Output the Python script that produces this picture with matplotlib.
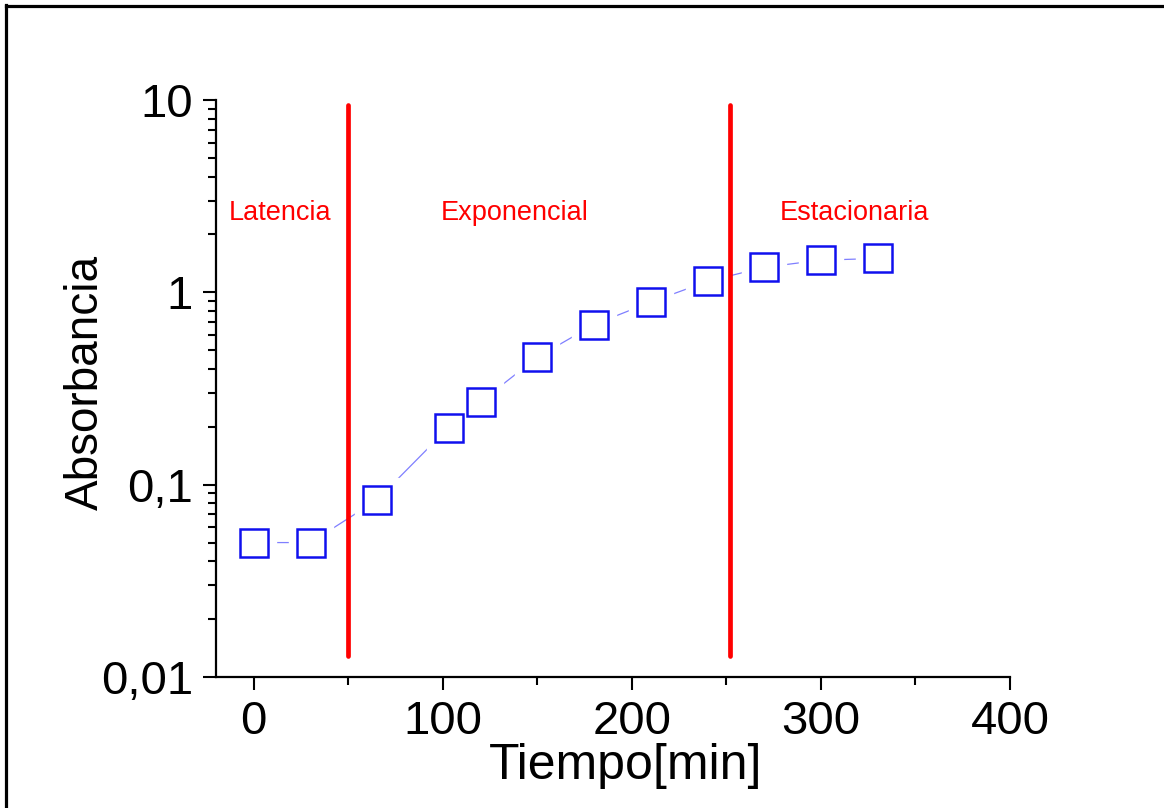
import numpy as np
import matplotlib.pyplot as plt
from matplotlib.ticker import FixedLocator, FuncFormatter, LogLocator, MultipleLocator
from matplotlib.lines import Line2D

# datos
tiempo = [0, 30, 65, 103, 120, 150, 180, 210, 240, 270, 300, 330]
absorbancia = [0.050, 0.050, 0.083, 0.198, 0.27, 0.46, 0.68, 0.89, 1.14, 1.35, 1.47, 1.50]

fases = ["Latencia", "Exponencial", "Estacionaria"]
fases_x = [14, 138, 318]
fases_y = [2.6, 2.6, 2.6]
limites = [50, 252]

plt.rcParams['font.family'] = ['Liberation Sans', 'DejaVu Sans']

fig = plt.figure(figsize=(11.64, 8.08), dpi=100)
ax = fig.add_axes([216 / 1164, 1 - 677 / 808, (1010 - 216) / 1164, (677 - 100) / 808])

# linea de union fina, con huecos alrededor de los marcadores
ax.plot(tiempo, absorbancia, color='#7f7fff', lw=0.9, zorder=2)
ax.plot(tiempo, absorbancia, ls='none', marker='s', ms=31, mfc='white', mec='white', zorder=3)
ax.plot(tiempo, absorbancia, ls='none', marker='s', ms=20, mfc='white', mec='#1010ee', mew=1.8, zorder=4)

for xl in limites:
    ax.plot([xl, xl], [9.4, 0.0129], color='#ff0000', lw=3.4, solid_capstyle='round', zorder=5)

for t, x, y in zip(fases, fases_x, fases_y):
    ax.text(x, y, t, color='#ff0000', fontsize=19.5, ha='center', va='center')

ax.set_yscale('log')
ax.set_ylim(0.01, 10)
ax.set_xlim(-20, 400)

ax.xaxis.set_major_locator(MultipleLocator(100))
ax.xaxis.set_minor_locator(MultipleLocator(50))
ax.yaxis.set_major_locator(FixedLocator([0.01, 0.1, 1, 10]))
ax.yaxis.set_minor_locator(LogLocator(base=10, subs=np.arange(2, 10)))
ax.yaxis.set_major_formatter(FuncFormatter(lambda v, p: ('%g' % v).replace('.', ',')))

for s in ['top', 'right']:
    ax.spines[s].set_visible(False)
for s in ['left', 'bottom']:
    ax.spines[s].set_linewidth(1.6)

ax.tick_params(which='major', direction='out', length=9.5, width=1.5, labelsize=34, pad=7)
ax.tick_params(which='minor', direction='out', length=5.5, width=1.5)

ax.set_xlabel("Tiempo[min]", fontsize=36)
ax.set_ylabel("Absorbancia", fontsize=33)
ax.xaxis.set_label_coords(0.516, -0.114)
ax.yaxis.set_label_coords(-0.136, 0.51)

# marco de la figura (izquierda y arriba)
fig.add_artist(Line2D([6 / 1164, 6 / 1164], [0, 1 - 5 / 808], color='black', lw=2.3, transform=fig.transFigure))
fig.add_artist(Line2D([6 / 1164, 1], [1 - 5.5 / 808, 1 - 5.5 / 808], color='black', lw=2.3, transform=fig.transFigure))

fig.savefig('out.png', dpi=100)
